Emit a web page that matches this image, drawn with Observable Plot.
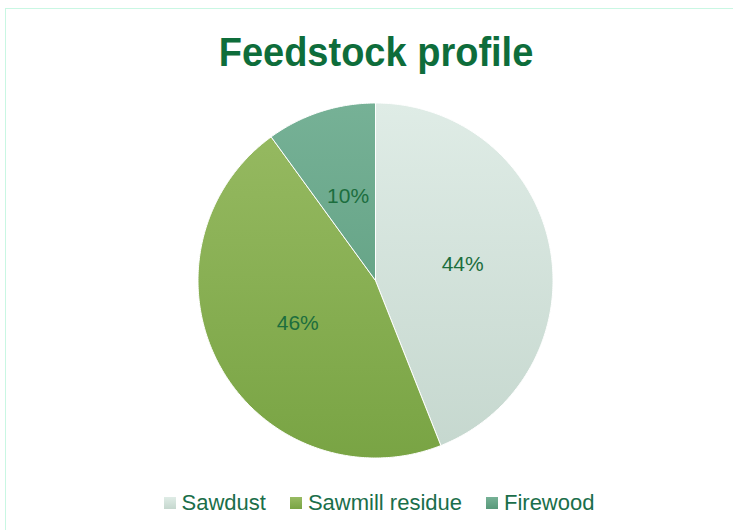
<!DOCTYPE html>
<html>
<head>
<meta charset="utf-8">
<script src="https://cdn.jsdelivr.net/npm/d3@7"></script>
<script src="https://cdn.jsdelivr.net/npm/@observablehq/plot@0.6"></script>
<style>
  html, body { margin: 0; padding: 0; background: #ffffff; overflow: hidden; width: 733px; height: 530px; }
  body { position: relative; font-family: "Liberation Sans", Arial, sans-serif; }
  #frame { position: absolute; left: 5px; top: 8px; width: 800px; height: 600px; border: 1.5px solid #c9f7e3; box-sizing: border-box; }
  #title { position: absolute; left: 0; width: 752px; top: 29px; text-align: center; font-size: 38px; font-weight: bold; color: #0e6d3b; line-height: 46px; transform: scaleY(1.06); }
  #chart { position: absolute; left: 0; top: 90px; }
  #legend { position: absolute; left: 0; width: 758px; top: 490px; display: flex; justify-content: center; align-items: center; font-size: 22px; color: #1a6e4a; line-height: 26px; }
  .item { display: flex; align-items: center; margin: 0 12px; }
  .sw { width: 12px; height: 12px; margin-right: 6px; }
</style>
</head>
<body>
<div id="frame"></div>
<div id="title">Feedstock profile</div>
<div id="chart"></div>
<div id="legend"></div>
<script>
const categories = ["Sawdust", "Sawmill residue", "Firewood"];
const values = [44, 46, 10];
const labels = ["44%", "46%", "10%"];
const colorTop = ["#dfece6", "#98bb63", "#76b196"];
const colorBottom = ["#c5d7ce", "#79a444", "#58997a"];
const gradIds = ["gSawdust", "gSawmill", "gFirewood"];

const arcs = d3.pie().sort(null).value(d => d)(values);

function slicePoints(a, i) {
  const pts = [{x: 0, y: 0, k: i}];
  const n = Math.max(4, Math.ceil((a.endAngle - a.startAngle) / 0.01));
  for (let j = 0; j <= n; j++) {
    const t = a.startAngle + (a.endAngle - a.startAngle) * j / n;
    pts.push({x: Math.sin(t), y: Math.cos(t), k: i});
  }
  pts.push({x: 0, y: 0, k: i});
  return pts;
}

const labelData = arcs.map((a, i) => {
  const m = (a.startAngle + a.endAngle) / 2;
  return {x: 0.5 * Math.sin(m), y: 0.5 * Math.cos(m), t: labels[i]};
});

const W = 733, H = 380, R = 177.5, CX = 375, CY = 190;

const plot = Plot.plot({
  width: W,
  height: H,
  marginLeft: CX - R,
  marginRight: W - CX - R,
  marginTop: CY - R,
  marginBottom: H - CY - R,
  x: {domain: [-1, 1], axis: null},
  y: {domain: [-1, 1], axis: null},
  style: {background: "transparent", overflow: "visible"},
  marks: [
    ...arcs.map((a, i) => Plot.line(slicePoints(a, i), {
      x: "x", y: "y", fill: `url(#${gradIds[i]})`, stroke: "#ffffff", strokeWidth: 1, strokeLinejoin: "round", curve: "linear"
    })),
    Plot.text(labelData, {
      x: "x", y: "y", text: "t", fontSize: 21, fill: "#1c6e3e",
      fontFamily: "Liberation Sans, Arial, sans-serif", textAnchor: "middle", lineAnchor: "middle"
    })
  ]
});

const ns = "http://www.w3.org/2000/svg";
const defs = document.createElementNS(ns, "defs");
gradIds.forEach((id, i) => {
  const g = document.createElementNS(ns, "linearGradient");
  g.setAttribute("id", id);
  g.setAttribute("gradientUnits", "userSpaceOnUse");
  g.setAttribute("x1", 0); g.setAttribute("x2", 0);
  g.setAttribute("y1", CY - R); g.setAttribute("y2", CY + R);
  const s1 = document.createElementNS(ns, "stop");
  s1.setAttribute("offset", "0"); s1.setAttribute("stop-color", colorTop[i]);
  const s2 = document.createElementNS(ns, "stop");
  s2.setAttribute("offset", "1"); s2.setAttribute("stop-color", colorBottom[i]);
  g.appendChild(s1); g.appendChild(s2);
  defs.appendChild(g);
});
plot.insertBefore(defs, plot.firstChild);
document.getElementById("chart").appendChild(plot);

const legend = document.getElementById("legend");
categories.forEach((c, i) => {
  const item = document.createElement("div");
  item.className = "item";
  const sw = document.createElement("div");
  sw.className = "sw";
  sw.style.background = `linear-gradient(${colorTop[i]}, ${colorBottom[i]})`;
  const tx = document.createElement("span");
  tx.textContent = c;
  item.appendChild(sw); item.appendChild(tx);
  legend.appendChild(item);
});
</script>
</body>
</html>
